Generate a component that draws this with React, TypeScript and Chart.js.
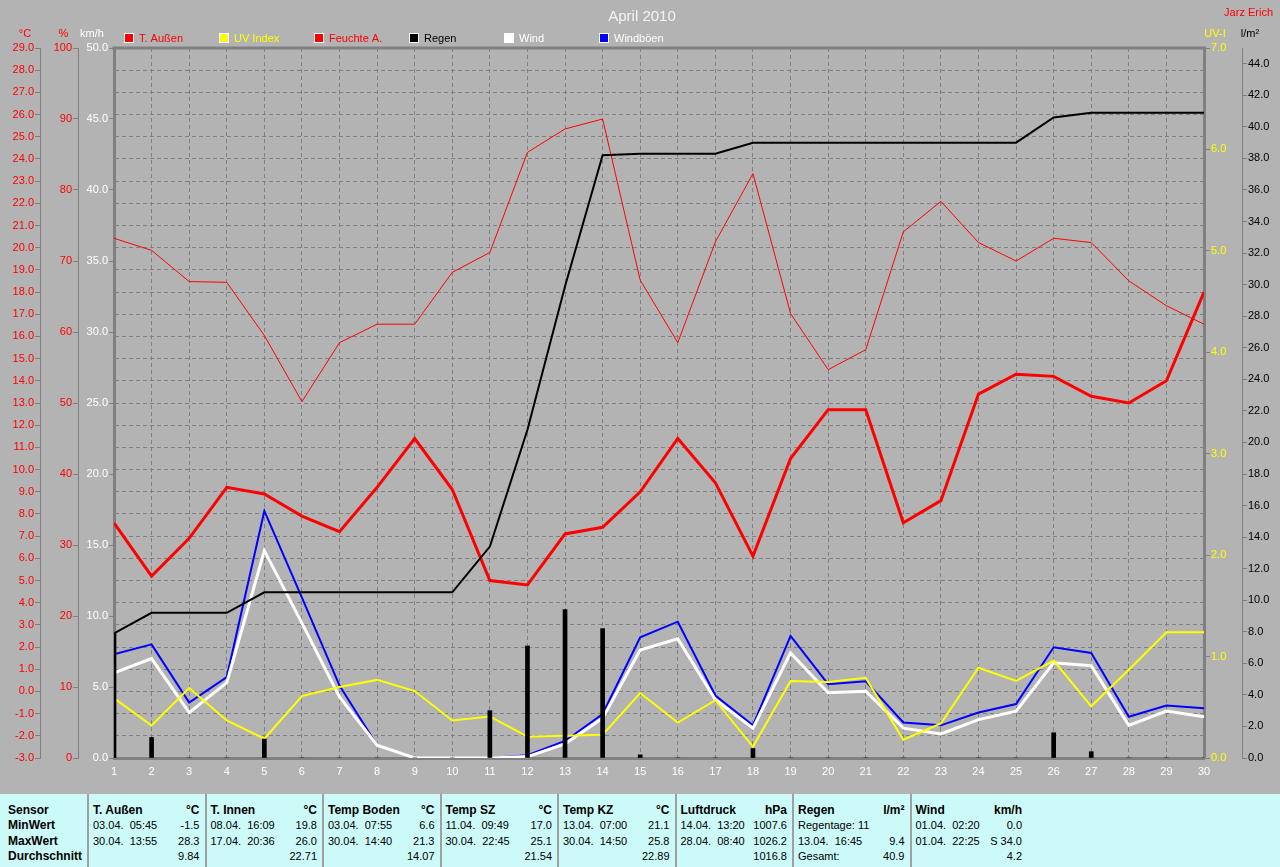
import React, { useEffect, useRef } from "react";
import { Chart, registerables } from "chart.js";

Chart.register(...registerables);

// ---------- data ----------
const days = [1, 2, 3, 4, 5, 6, 7, 8, 9, 10, 11, 12, 13, 14, 15, 16, 17, 18, 19, 20, 21, 22, 23, 24, 25, 26, 27, 28, 29, 30];
const tempOut = [7.6, 5.2, 6.9, 9.2, 8.9, 7.9, 7.2, 9.2, 11.4, 9.1, 5.0, 4.8, 7.1, 7.4, 9.0, 11.4, 9.4, 6.1, 10.5, 12.7, 12.7, 7.6, 8.6, 13.4, 14.3, 14.2, 13.3, 13.0, 14.0, 18.0];
const humidity = [73.2, 71.5, 67.1, 67.0, 59.5, 50.2, 58.5, 61.1, 61.1, 68.4, 71.2, 85.3, 88.6, 90.0, 67.3, 58.5, 72.7, 82.3, 62.6, 54.7, 57.5, 74.1, 78.4, 72.6, 70.0, 73.2, 72.6, 67.2, 63.7, 61.1];
const uvIndex = [0.59, 0.32, 0.69, 0.37, 0.19, 0.61, 0.7, 0.77, 0.66, 0.37, 0.41, 0.21, 0.22, 0.23, 0.64, 0.35, 0.57, 0.11, 0.76, 0.75, 0.79, 0.18, 0.34, 0.89, 0.76, 0.96, 0.51, 0.87, 1.24, 1.24];
const rainSum = [7.9, 9.2, 9.2, 9.2, 10.5, 10.5, 10.5, 10.5, 10.5, 10.5, 13.4, 20.8, 29.9, 38.2, 38.3, 38.3, 38.3, 39.0, 39.0, 39.0, 39.0, 39.0, 39.0, 39.0, 39.0, 40.6, 40.9, 40.9, 40.9, 40.9];
const rainDaily = [7.9, 1.3, 0, 0, 1.2, 0, 0, 0, 0, 0, 3.0, 7.1, 9.4, 8.2, 0.2, 0, 0, 0.6, 0, 0, 0, 0, 0, 0, 0, 1.6, 0.4, 0, 0, 0];
const wind = [6.0, 7.0, 3.2, 5.3, 14.6, 9.5, 4.3, 0.9, 0, 0, 0, 0.1, 1.0, 2.8, 7.6, 8.4, 4.1, 2.1, 7.4, 4.6, 4.7, 2.1, 1.7, 2.7, 3.3, 6.7, 6.5, 2.3, 3.3, 2.9];
const gusts = [7.3, 8.0, 3.9, 5.7, 17.4, 11.3, 5.1, 0.9, 0, 0, 0, 0.2, 1.2, 3.1, 8.5, 9.6, 4.4, 2.3, 8.6, 5.2, 5.4, 2.5, 2.3, 3.2, 3.8, 7.8, 7.4, 2.9, 3.7, 3.5];

// ---------- tick labels ----------
const tempTicks = [-3, -2, -1, 0, 1, 2, 3, 4, 5, 6, 7, 8, 9, 10, 11, 12, 13, 14, 15, 16, 17, 18, 19, 20, 21, 22, 23, 24, 25, 26, 27, 28, 29];
const humTicks = [0, 10, 20, 30, 40, 50, 60, 70, 80, 90, 100];
const windTicks = [0, 5, 10, 15, 20, 25, 30, 35, 40, 45, 50];
const uvTicks = [0, 1, 2, 3, 4, 5, 6, 7];
const rainTicks = [0, 2, 4, 6, 8, 10, 12, 14, 16, 18, 20, 22, 24, 26, 28, 30, 32, 34, 36, 38, 40, 42, 44];

// ---------- legend / titles ----------
const chartTitle = "April 2010";
const author = "Jarz Erich";
const legendItems = ["T. Außen", "UV Index", "Feuchte A.", "Regen", "Wind", "Windböen"];
const legendColors = ["#ff0000", "#ffff00", "#ff0000", "#000000", "#ffffff", "#0000ff"];
const legendTextColors = ["#ff0000", "#ffff00", "#ff0000", "#000000", "#ffffff", "#ffffff"];

// ---------- statistics table ----------
const sensorRows = ["Sensor", "MinWert", "MaxWert", "Durchschnitt"];
const tableHeads = ["T. Außen", "T. Innen", "Temp Boden", "Temp SZ", "Temp KZ", "Luftdruck", "Regen", "Wind"];
const tableUnits = ["°C", "°C", "°C", "°C", "°C", "hPa", "l/m²", "km/h"];
const minWhen = ["03.04.  05:45", "08.04.  16:09", "03.04.  07:55", "11.04.  09:49", "13.04.  07:00", "14.04.  13:20", "Regentage: 11", "01.04.  02:20"];
const minVal = ["-1.5", "19.8", "6.6", "17.0", "21.1", "1007.6", "", "0.0"];
const maxWhen = ["30.04.  13:55", "17.04.  20:36", "30.04.  14:40", "30.04.  22:45", "30.04.  14:50", "28.04.  08:40", "13.04.  16:45", "01.04.  22:25"];
const maxVal = ["28.3", "26.0", "21.3", "25.1", "25.8", "1026.2", "9.4", "S 34.0"];
const avgWhen = ["", "", "", "", "", "", "Gesamt:", ""];
const avgVal = ["9.84", "22.71", "14.07", "21.54", "22.89", "1016.8", "40.9", "4.2"];

const FONT = "'Liberation Sans', Arial, Helvetica, sans-serif";
const GRID = "#808080";
const BG = "#b3b3b3";

const pts = (arr: number[]) => arr.map((v, i) => ({ x: days[i], y: v }));

function yAxis(
  position: "left" | "right",
  weight: number,
  min: number,
  max: number,
  ticksList: number[],
  color: string,
  fmt: (v: number) => string,
  width: number,
  tickLength: number,
  borderWidth: number,
  onArea: boolean
) {
  return {
    type: "linear",
    position,
    weight,
    min,
    max,
    afterBuildTicks: (s: any) => {
      s.ticks = ticksList.map((v) => ({ value: v }));
    },
    afterFit: (s: any) => {
      s.width = width;
    },
    ticks: {
      color,
      font: { family: FONT, size: 11 },
      padding: 1,
      autoSkip: false,
      callback: (v: any) => fmt(Number(v)),
    },
    grid: {
      color: GRID,
      lineWidth: 1,
      drawOnChartArea: onArea,
      drawTicks: true,
      tickLength,
      tickColor: GRID,
      tickBorderDash: [],
      offset: false,
    },
    border: { display: true, color: GRID, width: borderWidth, dash: [4, 3] },
  };
}

const decorPlugin = {
  id: "decor",
  beforeDatasetsDraw(chart: any) {
    const { ctx, chartArea: a } = chart;
    ctx.save();
    ctx.strokeStyle = GRID;
    ctx.lineWidth = 3;
    ctx.beginPath();
    ctx.moveTo(a.left - 1.5, a.top);
    ctx.lineTo(a.right + 1.5, a.top);
    ctx.stroke();
    ctx.restore();
  },
  afterDraw(chart: any) {
    const { ctx } = chart;
    ctx.save();
    ctx.textBaseline = "alphabetic";
    // title
    ctx.font = `15px ${FONT}`;
    ctx.fillStyle = "#f4f4f4";
    ctx.textAlign = "center";
    ctx.fillText(chartTitle, 642, 21);
    // author
    ctx.font = `11px ${FONT}`;
    ctx.fillStyle = "#ff0000";
    ctx.textAlign = "right";
    ctx.fillText(author, 1273, 16);
    // axis titles
    ctx.textAlign = "center";
    const axisTitles: [string, number, string][] = [
      ["°C", 25, "#ff0000"],
      ["%", 63.5, "#ff0000"],
      ["km/h", 92, "#ffffff"],
      ["UV-I", 1215, "#ffff00"],
      ["l/m²", 1250, "#000000"],
    ];
    axisTitles.forEach(([t, x, c]) => {
      ctx.fillStyle = c;
      ctx.fillText(t, x, 37);
    });
    // legend
    ctx.textAlign = "left";
    legendItems.forEach((name, i) => {
      const x = 124 + 95 * i;
      ctx.fillStyle = "#ffffff";
      ctx.fillRect(x, 33, 10, 10);
      ctx.fillStyle = legendColors[i];
      ctx.fillRect(x + 1, 34, 8, 8);
      ctx.fillStyle = legendTextColors[i];
      ctx.fillText(name, x + 15, 42);
    });
    ctx.restore();
  },
};

export default function App() {
  const ref = useRef<HTMLCanvasElement>(null);

  useEffect(() => {
    if (!ref.current) return;
    const chart = new Chart(ref.current, {
      type: "line",
      data: {
        datasets: [
          { type: "bar", label: "Regen Tag", data: pts(rainDaily), yAxisID: "yR", xAxisID: "x", backgroundColor: "#000000", barThickness: 4, order: 0 },
          { type: "line", label: "Regen", data: pts(rainSum), yAxisID: "yR", xAxisID: "x", borderColor: "#000000", borderWidth: 2, order: 1 },
          { type: "line", label: "UV Index", data: pts(uvIndex), yAxisID: "yUV", xAxisID: "x", borderColor: "#ffff00", borderWidth: 2, order: 2 },
          { type: "line", label: "Wind", data: pts(wind), yAxisID: "yK", xAxisID: "x", borderColor: "#ffffff", borderWidth: 3, order: 3 },
          { type: "line", label: "Windböen", data: pts(gusts), yAxisID: "yK", xAxisID: "x", borderColor: "#0000ff", borderWidth: 2, order: 4 },
          { type: "line", label: "T. Außen", data: pts(tempOut), yAxisID: "yC", xAxisID: "x", borderColor: "#ff0000", borderWidth: 3, order: 5 },
          { type: "line", label: "Feuchte A.", data: pts(humidity), yAxisID: "yP", xAxisID: "x", borderColor: "#ff0000", borderWidth: 1, order: 6 },
        ] as any,
      },
      options: {
        animation: false,
        responsive: false,
        maintainAspectRatio: false,
        events: [],
        layout: { padding: { top: 48, left: 0, right: 0, bottom: 0 } },
        elements: { point: { radius: 0 }, line: { tension: 0, fill: false } },
        plugins: { legend: { display: false }, tooltip: { enabled: false }, title: { display: false } },
        scales: {
          x: {
            type: "linear",
            min: 1,
            max: 30,
            offset: false,
            afterBuildTicks: (s: any) => {
              s.ticks = days.map((v) => ({ value: v }));
            },
            afterFit: (s: any) => {
              s.height = 36;
            },
            ticks: { color: "#ffffff", font: { family: FONT, size: 11 }, padding: 7, autoSkip: false, maxRotation: 0, callback: (v: any) => String(v) },
            grid: { color: GRID, lineWidth: 1, drawTicks: false, offset: false, drawOnChartArea: true },
            border: { display: true, color: GRID, width: 3, dash: [4, 3] },
          },
          yC: yAxis("left", 3, -3, 29, tempTicks, "#ff0000", (v) => v.toFixed(1), 40, 5, 1, true),
          yP: yAxis("left", 2, 0, 100, humTicks, "#ff0000", (v) => String(v), 38, 5, 1, false),
          yK: yAxis("left", 1, 0, 50, windTicks, "#ffffff", (v) => v.toFixed(1), 36, 5, 3, false),
          yUV: yAxis("right", 1, 0, 7, uvTicks, "#ffff00", (v) => v.toFixed(1), 38, 6, 3, false),
          yR: yAxis("right", 2, 0, 45, rainTicks, "#000000", (v) => v.toFixed(1), 38, 5, 1, false),
        } as any,
      },
      plugins: [decorPlugin],
    } as any);
    return () => chart.destroy();
  }, []);

  const seps = [88, 205.5, 323, 440.5, 558, 675.5, 793, 910.5];
  const colW = 117.5;
  const rowTops = [9.5, 25, 40.5, 56];
  const base: React.CSSProperties = { position: "absolute", whiteSpace: "pre", lineHeight: "13px", color: "#000" };
  const bold: React.CSSProperties = { ...base, fontFamily: FONT, fontSize: "12px", fontWeight: "bold" };
  const reg: React.CSSProperties = { ...base, fontFamily: FONT, fontSize: "11px" };

  return (
    <div style={{ position: "absolute", left: 0, top: 0, width: 1280, height: 867, background: BG, overflow: "hidden" }}>
      <canvas ref={ref} width={1280} height={794} style={{ display: "block", width: 1280, height: 794 }} />
      <div style={{ position: "absolute", left: 0, top: 794, width: 1280, height: 73, background: "#ccfaf8" }}>
        {sensorRows.map((r, i) => (
          <div key={"s" + i} style={{ ...bold, left: 8, top: rowTops[i] }}>{r}</div>
        ))}
        {seps.map((s, k) => (
          <div key={"c" + k}>
            <div style={{ position: "absolute", left: s - 1, top: 0, width: 2, height: 73, background: "#a0a0a0" }} />
            <div style={{ ...bold, left: s + 5, top: rowTops[0] }}>{tableHeads[k]}</div>
            <div style={{ ...bold, right: 1280 - (s + colW - 6), top: rowTops[0] }}>{tableUnits[k]}</div>
            <div style={{ ...reg, left: s + 5, top: rowTops[1] }}>{minWhen[k]}</div>
            <div style={{ ...reg, right: 1280 - (s + colW - 6), top: rowTops[1] }}>{minVal[k]}</div>
            <div style={{ ...reg, left: s + 5, top: rowTops[2] }}>{maxWhen[k]}</div>
            <div style={{ ...reg, right: 1280 - (s + colW - 6), top: rowTops[2] }}>{maxVal[k]}</div>
            <div style={{ ...reg, left: s + 5, top: rowTops[3] }}>{avgWhen[k]}</div>
            <div style={{ ...reg, right: 1280 - (s + colW - 6), top: rowTops[3] }}>{avgVal[k]}</div>
          </div>
        ))}
      </div>
    </div>
  );
}
